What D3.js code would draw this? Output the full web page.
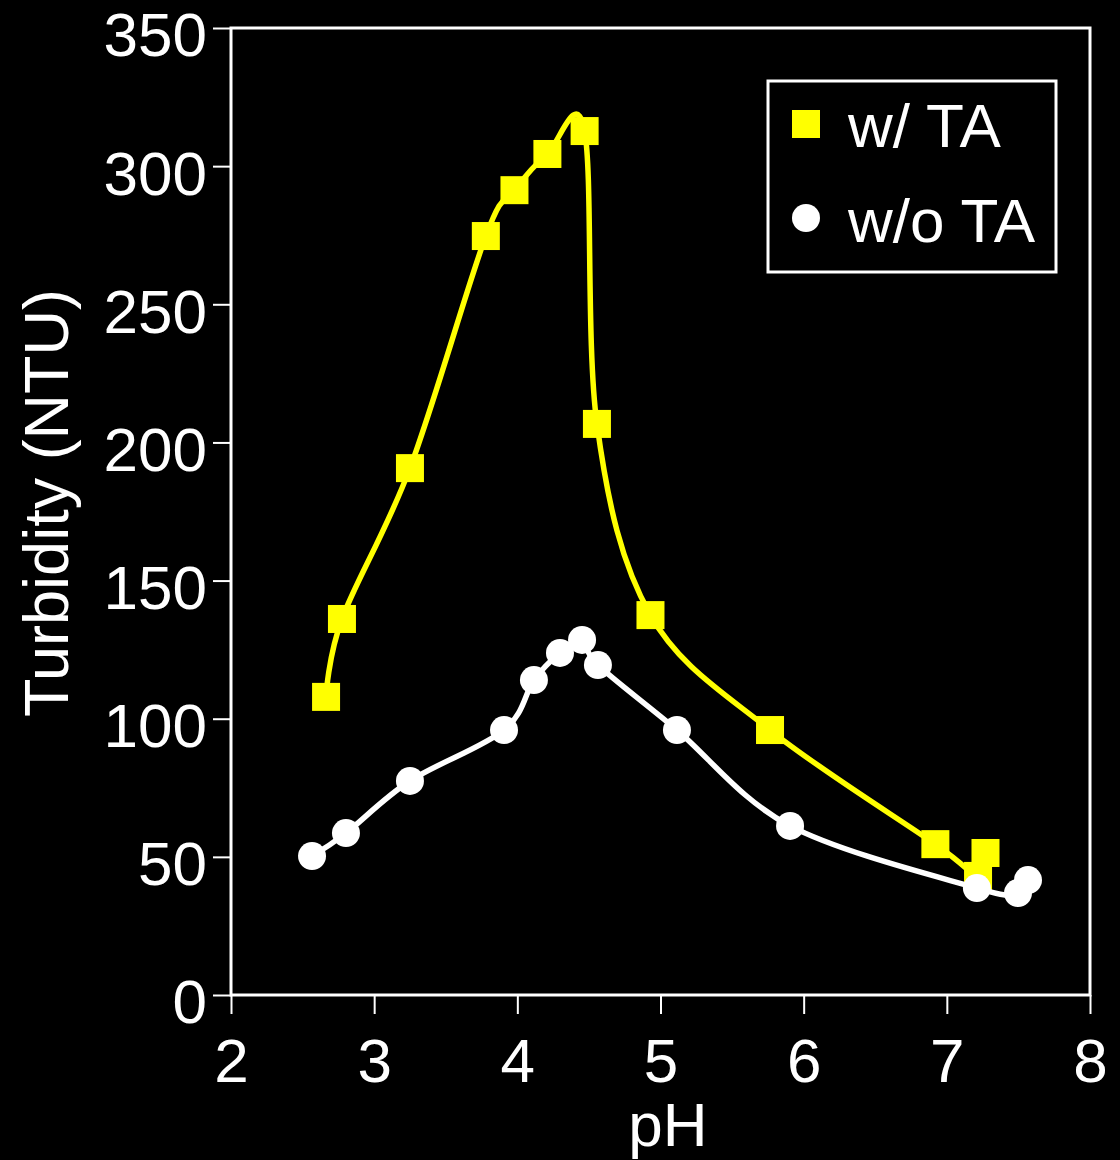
<!DOCTYPE html>
<html>
<head>
<meta charset="utf-8">
<script src="https://cdn.jsdelivr.net/npm/d3@7"></script>
<style>
  html, body { margin: 0; padding: 0; background: #000; }
  svg { display: block; }
  text { font-family: "Liberation Sans", Arial, Helvetica, sans-serif; fill: #fff; }
</style>
</head>
<body>
<svg id="chart" width="1120" height="1160"></svg>
<script>
// ---- data ----
const withTA_pH = [2.664, 2.775, 3.25, 3.78, 3.98, 4.21, 4.47, 4.556, 4.93, 5.765, 6.92, 7.218, 7.27];
const withTA_turb = [107.9, 136.1, 190.7, 274.7, 291.3, 304.4, 312.7, 206.7, 137.5, 95.9, 54.6, 43.1, 51.4];
const withoutTA_pH = [2.566, 2.803, 3.25, 3.907, 4.116, 4.298, 4.452, 4.563, 5.115, 5.905, 7.21, 7.497, 7.567];
const withoutTA_turb = [50.3, 58.6, 77.5, 95.9, 114.0, 123.8, 128.5, 119.4, 95.9, 61.2, 38.7, 36.9, 41.6];
const xTicks = [2, 3, 4, 5, 6, 7, 8];
const yTicks = [0, 50, 100, 150, 200, 250, 300, 350];
const seriesNames = ["w/ TA", "w/o TA"];
const seriesColors = ["#ffff00", "#ffffff"];

// ---- layout ----
const svg = d3.select("#chart");
const L = 231, R = 1090, T = 28, B = 995;
const x = d3.scaleLinear().domain([2, 8]).range([L, R]);
const y = d3.scaleLinear().domain([0, 350]).range([B, T]);
const FS = 62;

svg.append("rect").attr("width", 1120).attr("height", 1160).attr("fill", "#000");

// frame
svg.append("rect")
  .attr("x", L).attr("y", T).attr("width", R - L).attr("height", B - T)
  .attr("fill", "none").attr("stroke", "#fff").attr("stroke-width", 3);

// axes
const yAxis = svg.append("g").attr("transform", `translate(${L},0)`)
  .call(d3.axisLeft(y).tickValues(yTicks).tickFormat(d3.format("d"))
    .tickSize(18).tickSizeOuter(0).tickPadding(6));
const xAxis = svg.append("g").attr("transform", `translate(0,${B})`)
  .call(d3.axisBottom(x).tickValues(xTicks).tickFormat(d3.format("d"))
    .tickSize(19).tickSizeOuter(0).tickPadding(24));
[yAxis, xAxis].forEach(g => {
  g.select(".domain").remove();
  g.selectAll(".tick line").attr("stroke", "#fff").attr("stroke-width", 2);
  g.selectAll(".tick text").attr("fill", "#fff")
    .style("font-family", '"Liberation Sans", Arial, sans-serif').style("font-size", FS + "px");
});
yAxis.selectAll(".tick text").attr("dy", "0.45em");

// axis titles
svg.append("text").attr("x", 668).attr("y", 1146).attr("text-anchor", "middle")
  .style("font-size", "62px").text("pH");
svg.append("text").attr("transform", "translate(68,503) rotate(-90)").attr("text-anchor", "middle")
  .style("font-size", "63px").text("Turbidity (NTU)");

// series
const yellowData = withTA_pH.map((p, i) => ({ p, v: withTA_turb[i] }));
const whiteData = withoutTA_pH.map((p, i) => ({ p, v: withoutTA_turb[i] }));
const line = d3.line().x(d => x(d.p)).y(d => y(d.v)).curve(d3.curveCatmullRom.alpha(0));

const plot = svg.append("g");
plot.append("path").datum(yellowData).attr("d", line)
  .attr("fill", "none").attr("stroke", seriesColors[0]).attr("stroke-width", 5.5).attr("stroke-linejoin", "round");
const SQ = 28;
plot.selectAll("rect.sq").data(yellowData).join("rect").attr("class", "sq")
  .attr("x", d => x(d.p) - SQ / 2).attr("y", d => y(d.v) - SQ / 2)
  .attr("width", SQ).attr("height", SQ).attr("fill", seriesColors[0]);

plot.append("path").datum(whiteData).attr("d", line)
  .attr("fill", "none").attr("stroke", seriesColors[1]).attr("stroke-width", 5.5).attr("stroke-linejoin", "round");
plot.selectAll("circle.ci").data(whiteData).join("circle").attr("class", "ci")
  .attr("cx", d => x(d.p)).attr("cy", d => y(d.v)).attr("r", 14).attr("fill", seriesColors[1]);

// legend
const lg = svg.append("g");
lg.append("rect").attr("x", 768).attr("y", 81).attr("width", 288).attr("height", 191)
  .attr("fill", "#000").attr("stroke", "#fff").attr("stroke-width", 3);
lg.append("rect").attr("x", 806 - SQ / 2).attr("y", 124 - SQ / 2).attr("width", SQ).attr("height", SQ)
  .attr("fill", seriesColors[0]);
lg.append("circle").attr("cx", 806).attr("cy", 218).attr("r", 14).attr("fill", seriesColors[1]);
lg.append("text").attr("x", 848).attr("y", 147).style("font-size", "62px").text(seriesNames[0]);
lg.append("text").attr("x", 848).attr("y", 242).style("font-size", "62px").text(seriesNames[1]);
</script>
</body>
</html>
